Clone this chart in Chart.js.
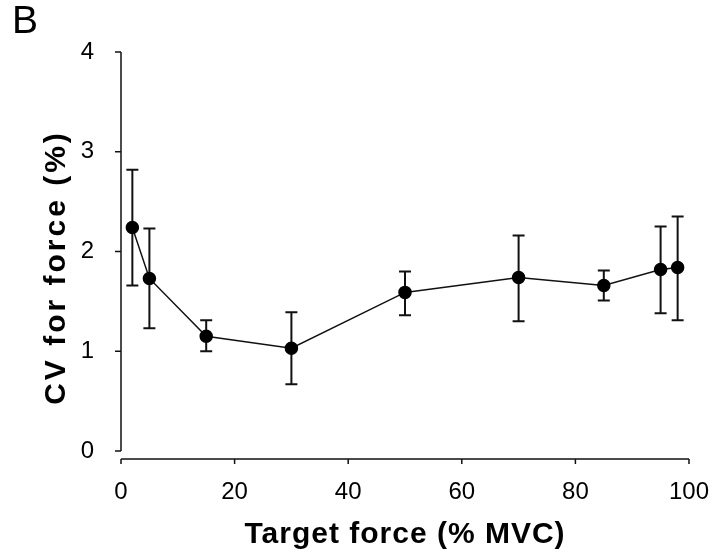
<!DOCTYPE html>
<html>
<head>
<meta charset="utf-8">
<script src="https://cdn.jsdelivr.net/npm/chart.js@4/dist/chart.umd.min.js"></script>
<style>
  html, body { margin: 0; padding: 0; background: #fff; }
  #wrap { position: relative; width: 712px; height: 554px; }
  #panel { position: absolute; left: 12px; top: -2px; font: 39px "Liberation Sans", Arial, sans-serif; color: #000; }
</style>
</head>
<body>
<div id="wrap">
  <canvas id="cvChart" width="712" height="554"></canvas>
  <div id="panel">B</div>
</div>
<script>
// Target force (% MVC) vs CV for force (%), mean with error bars
const targetForce = [2, 5, 15, 30, 50, 70, 85, 95, 98];
const cvForce = [2.24, 1.73, 1.15, 1.03, 1.59, 1.74, 1.66, 1.82, 1.84];
const errUpper = [2.82, 2.23, 1.31, 1.39, 1.80, 2.16, 1.81, 2.25, 2.35];
const errLower = [1.66, 1.23, 1.00, 0.67, 1.36, 1.30, 1.51, 1.38, 1.31];
const xTicks = [0, 20, 40, 60, 80, 100];
const yTicks = [0, 1, 2, 3, 4];

const points = targetForce.map((x, i) => ({ x: x, y: cvForce[i] }));

// vertical error bars with caps
const errorBars = {
  id: 'errorBars',
  beforeDatasetsDraw(chart) {
    const { ctx, scales: { x, y } } = chart;
    ctx.save();
    ctx.strokeStyle = '#111';
    ctx.lineWidth = 2;
    targetForce.forEach((v, i) => {
      const px = x.getPixelForValue(v);
      const top = y.getPixelForValue(errUpper[i]);
      const bot = y.getPixelForValue(errLower[i]);
      ctx.beginPath();
      ctx.moveTo(px, top); ctx.lineTo(px, bot);
      ctx.moveTo(px - 6, top); ctx.lineTo(px + 6, top);
      ctx.moveTo(px - 6, bot); ctx.lineTo(px + 6, bot);
      ctx.stroke();
    });
    ctx.restore();
  }
};

// offset axes like the original figure
const axisLines = {
  id: 'axisLines',
  afterDraw(chart) {
    const { ctx, scales: { x, y }, chartArea } = chart;
    const axisY = chartArea.bottom + 8;
    const axisX = chartArea.left;
    ctx.save();
    ctx.strokeStyle = '#111';
    ctx.lineWidth = 1.5;
    ctx.beginPath();
    ctx.moveTo(axisX, y.getPixelForValue(4));
    ctx.lineTo(axisX, y.getPixelForValue(0));
    yTicks.forEach(t => {
      const py = y.getPixelForValue(t);
      ctx.moveTo(axisX - 6, py); ctx.lineTo(axisX, py);
    });
    ctx.moveTo(x.getPixelForValue(0), axisY);
    ctx.lineTo(x.getPixelForValue(100), axisY);
    xTicks.forEach(t => {
      const px = x.getPixelForValue(t);
      ctx.moveTo(px, axisY); ctx.lineTo(px, axisY + 5);
    });
    ctx.stroke();
    ctx.restore();
  }
};

const tickFont = { family: 'Liberation Sans', size: 24 };
const titleFont = { family: 'Liberation Sans', size: 30, weight: 'bold' };

const chart = new Chart(document.getElementById('cvChart').getContext('2d'), {
  type: 'line',
  data: {
    datasets: [{
      data: points,
      borderColor: '#111',
      borderWidth: 1.5,
      backgroundColor: '#000',
      pointRadius: 6,
      pointBackgroundColor: '#000',
      pointBorderColor: '#000',
      tension: 0,
      clip: false
    }]
  },
  options: {
    responsive: false,
    animation: false,
    layout: { padding: { top: 52, right: 23, left: 0, bottom: 0 } },
    plugins: { legend: { display: false }, tooltip: { enabled: false } },
    scales: {
      x: {
        type: 'linear',
        min: 0, max: 100,
        afterBuildTicks: s => { s.ticks = xTicks.map(v => ({ value: v })); },
        afterFit: s => { s.height = 103; s.paddingLeft = 0; s.paddingRight = 0; },
        grid: { display: false },
        border: { display: false },
        ticks: { color: '#000', padding: 19, font: tickFont },
        title: {
          display: true,
          text: 'Target force (% MVC)',
          color: '#000',
          padding: { top: 0, bottom: 1 },
          font: titleFont
        }
      },
      y: {
        min: 0, max: 4,
        afterBuildTicks: s => { s.ticks = yTicks.map(v => ({ value: v })); },
        afterFit: s => { s.width = 121; },
        grid: { display: false },
        border: { display: false },
        ticks: { color: '#000', padding: 19, font: tickFont },
        title: {
          display: true,
          text: 'CV for force (%)',
          color: '#000',
          padding: { top: 39, bottom: 0 },
          font: titleFont
        }
      }
    }
  },
  plugins: [errorBars, axisLines]
});

// the scanned figure uses wider letter spacing in the axis titles
function spaceTitle(scale, spacing, shiftY) {
  const orig = scale.drawTitle.bind(scale);
  scale.drawTitle = function () {
    const ctx = this.ctx;
    ctx.save();
    ctx.letterSpacing = spacing;
    ctx.translate(0, shiftY);
    orig();
    ctx.restore();
  };
}
spaceTitle(chart.scales.x, '1px', 0);
spaceTitle(chart.scales.y, '3px', 16);
chart.draw();
</script>
</body>
</html>
